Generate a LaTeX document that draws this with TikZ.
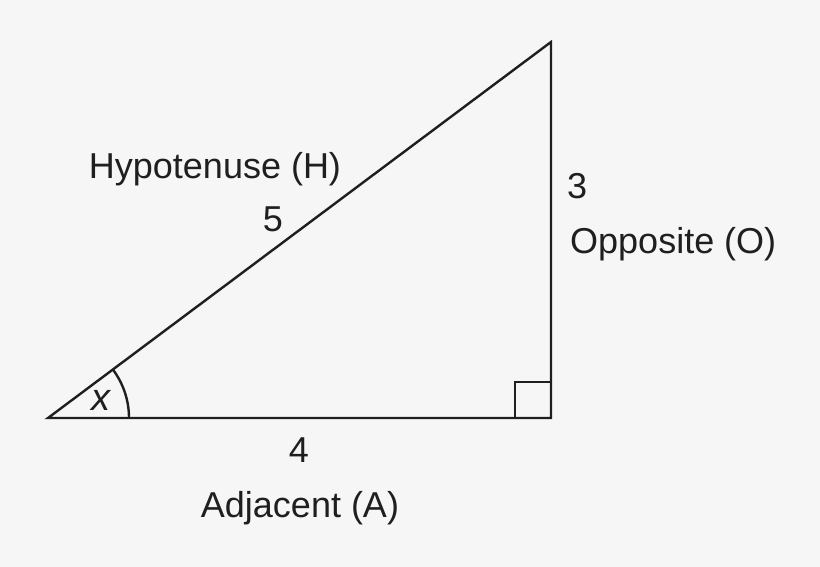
\documentclass[tikz,border=0pt]{standalone}
\usepackage{fontspec}
\setmainfont{Liberation Sans}
\begin{document}
\begin{tikzpicture}[x=1pt,y=-1pt,
  edge/.style={line width=2.4pt,draw=black!88,line join=miter},
  lbl/.style={inner sep=0pt,text=black!88,font=\fontsize{36}{40}\selectfont}]
\fill[black!3.5] (0,0) rectangle (820,567);
\useasboundingbox (0,0) rectangle (820,567);
\coordinate (A) at (48,418);
\coordinate (B) at (551,418);
\coordinate (C) at (551,42);
\draw[edge] (A) -- (B) -- (C) -- cycle;
\draw[edge] ([xshift=-36pt]B) -- ++(0,-36) -- ++(36,0);
\draw[edge] ([xshift=81pt]A) arc[start angle=0,end angle=-36.8,radius=81];
\node[lbl,anchor=center,font=\fontsize{38}{40}\selectfont\itshape] (x) at (101,400) {x};
\node[lbl,anchor=base] (hyp) at (215,179) {Hypotenuse (H)};
\node[lbl,anchor=base] (five) at (273,232) {5};
\node[lbl,anchor=base west] (three) at (567,199) {3};
\node[lbl,anchor=base west] (opp) at (570,253) {Opposite (O)};
\node[lbl,anchor=base] (four) at (299,462) {4};
\node[lbl,anchor=base] (adj) at (300,517) {Adjacent (A)};
\end{tikzpicture}
\end{document}
